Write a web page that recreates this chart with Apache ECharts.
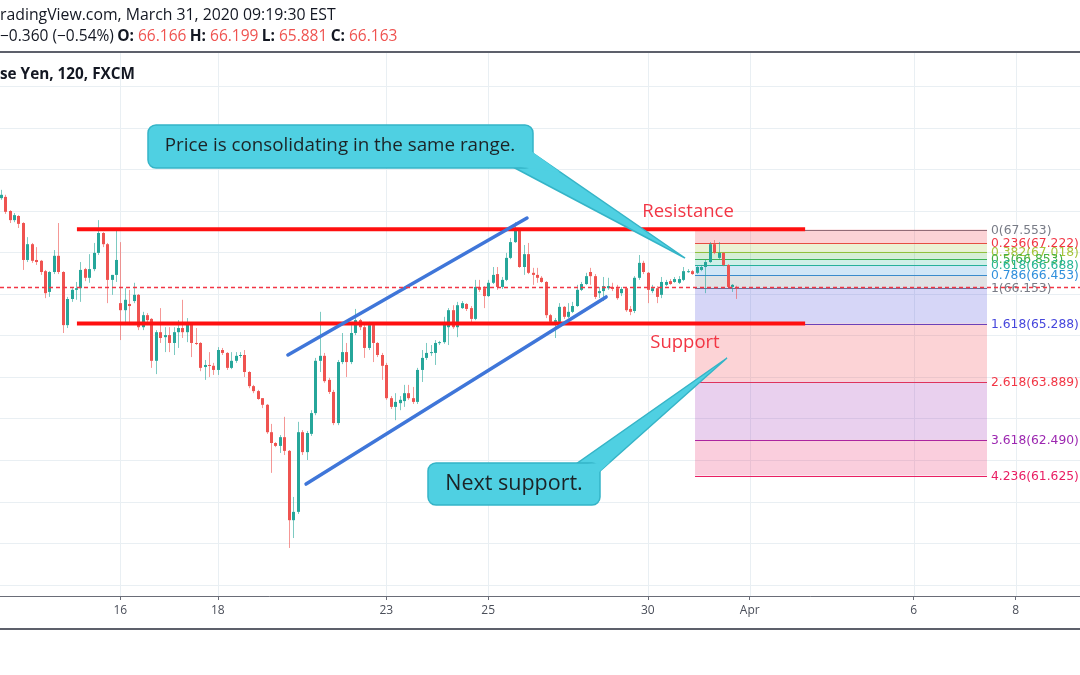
<!DOCTYPE html>
<html><head><meta charset="utf-8">
<script src="https://cdn.jsdelivr.net/npm/echarts@6/dist/echarts.min.js"></script>
<style>html,body{margin:0;padding:0;background:#fff}#c{width:1080px;height:675px}</style>
</head><body><div id="c"></div>
<script>
// ---- data (USD/JPY 120-minute candles, bar index order) ----
const opens = [
68.31,68.34,68.00,67.78,67.88,67.71,66.82,67.20,66.82,66.80,
66.55,66.05,66.53,66.92,66.53,65.25,65.88,66.10,66.14,66.60,
66.39,66.60,66.99,67.47,67.20,66.34,66.46,65.78,65.61,65.76,
65.83,65.98,65.20,65.49,65.40,64.39,65.08,64.96,65.01,64.82,
65.08,65.18,65.08,65.30,64.82,64.82,64.24,64.29,64.27,64.17,
64.65,64.58,64.22,64.39,64.51,64.53,64.12,63.78,63.66,63.49,
63.33,62.67,62.41,62.34,62.55,62.22,60.55,60.75,62.67,62.19,
62.63,63.13,64.39,64.51,63.93,63.64,62.89,64.36,64.60,64.36,
65.06,65.37,65.20,64.70,65.25,64.82,64.53,64.29,63.49,63.28,
63.37,63.42,63.61,63.49,63.40,64.17,64.46,64.58,64.58,64.82,
64.84,65.20,65.61,65.20,65.66,65.76,65.66,65.40,66.17,66.14,
65.95,66.27,66.48,66.17,66.34,66.87,67.25,67.54,66.65,66.96,
66.51,66.46,66.39,66.29,65.49,65.33,65.33,65.69,65.45,65.57,
65.71,66.10,66.24,66.53,66.43,66.02,66.07,66.14,66.17,66.14,
66.02,66.14,65.64,65.59,66.39,66.75,66.51,66.07,66.14,65.98,
66.22,66.31,66.29,66.27,66.34,66.53,66.55,66.51,66.58,66.65,
66.77,67.20,66.87,66.99,66.70,66.17,66.166];
const closes = [
68.39,67.98,67.78,67.90,67.69,66.82,67.20,66.80,66.77,66.53,
66.02,66.53,66.92,66.53,65.25,65.88,66.10,66.14,66.58,66.39,
66.60,66.99,67.47,67.20,66.34,66.46,66.82,65.61,65.86,65.71,
65.98,65.20,65.49,65.37,64.39,65.08,64.94,65.01,64.82,65.08,
65.18,65.08,65.30,64.82,64.80,64.22,64.29,64.27,64.17,64.65,
64.58,64.22,64.39,64.51,64.53,64.12,63.78,63.66,63.47,63.33,
62.67,62.41,62.34,62.55,62.22,60.55,60.75,62.67,62.19,62.65,
63.13,64.39,64.51,63.90,63.64,62.89,64.36,64.60,64.36,65.06,
65.37,65.20,64.70,65.25,64.82,64.53,64.27,63.49,63.28,63.40,
63.45,63.61,63.49,63.40,64.17,64.46,64.58,64.60,64.82,64.84,
65.30,65.61,65.20,65.73,65.78,65.64,65.40,66.17,66.10,65.95,
66.27,66.46,66.17,66.34,66.87,67.25,67.54,66.65,66.96,66.51,
66.46,66.39,66.29,65.49,65.33,65.37,65.69,65.45,65.57,65.71,
66.10,66.24,66.43,66.43,65.93,66.07,66.19,66.19,66.12,65.90,
66.12,65.61,65.57,66.39,66.75,66.53,66.10,66.14,65.93,66.29,
66.29,66.24,66.36,66.36,66.55,66.55,66.48,66.65,66.65,66.77,
67.20,66.99,66.99,66.70,66.17,66.22,66.163];
const lows = [
68.27,67.93,67.71,67.73,67.59,66.58,66.77,66.75,66.70,66.46,
65.90,65.93,66.48,66.48,65.06,65.18,65.81,65.86,65.81,66.31,
66.27,66.55,66.94,67.13,65.78,65.98,66.29,64.89,65.25,65.25,
65.78,65.13,65.13,65.25,64.22,64.07,64.82,64.60,64.60,64.53,
64.70,64.94,64.84,64.48,64.77,64.14,63.93,64.00,64.05,64.05,
64.53,64.17,64.19,64.34,64.46,64.00,63.73,63.61,63.45,63.25,
62.63,61.69,62.31,62.17,62.12,59.88,60.12,60.70,62.12,62.00,
62.58,63.08,64.12,63.86,63.59,62.84,62.84,64.31,64.00,64.31,
65.01,65.13,64.46,64.65,64.36,64.48,63.93,63.45,63.23,62.96,
63.20,63.28,63.45,63.35,63.35,63.88,64.41,64.51,64.29,64.77,
64.80,64.77,65.16,64.96,65.64,65.59,65.30,65.37,66.05,65.66,
65.93,66.24,66.10,66.12,66.31,66.84,67.23,66.63,66.46,66.48,
66.22,66.27,66.27,65.42,65.30,64.94,65.30,65.40,65.42,65.54,
65.69,66.07,66.22,66.22,65.88,65.90,65.83,66.10,66.07,65.86,
65.95,65.57,65.49,65.54,66.34,66.48,65.78,66.02,65.78,65.90,
66.19,66.22,66.27,66.24,66.31,66.51,66.46,66.48,66.55,66.02,
66.75,66.96,66.84,66.67,66.14,66.05,65.881];
const highs = [
68.51,68.39,68.02,67.95,67.90,67.73,67.37,67.23,67.13,66.82,
66.58,66.55,67.06,67.71,66.55,65.93,66.14,66.29,66.77,66.63,
66.96,67.23,67.78,67.49,67.23,66.46,67.59,67.25,66.14,66.10,
66.27,66.00,65.57,65.54,65.42,65.13,65.66,65.20,65.20,65.20,
65.37,65.86,65.42,65.30,65.18,64.84,64.41,64.60,64.34,64.72,
64.70,64.60,64.60,64.60,64.60,64.65,64.14,63.81,63.69,63.49,
63.35,62.87,62.43,62.60,63.04,62.24,61.11,62.92,62.72,62.70,
63.20,64.46,65.57,64.58,63.98,63.69,64.41,65.06,64.82,65.25,
65.64,65.40,65.25,65.33,65.28,64.84,64.58,64.34,63.54,63.61,
63.54,63.81,63.81,63.76,64.22,64.65,64.82,64.77,64.89,64.87,
65.45,65.66,65.73,65.81,65.83,65.78,65.71,66.34,66.34,66.19,
66.34,66.65,66.65,66.41,66.99,67.35,67.73,67.57,67.18,67.23,
66.63,66.63,66.43,66.31,65.52,65.42,65.78,65.71,65.78,65.81,
66.22,66.29,66.51,66.63,66.48,66.17,66.41,66.39,66.27,66.22,
66.17,66.17,65.71,66.43,66.94,66.80,66.53,66.22,66.19,66.41,
66.34,66.36,66.41,66.43,66.65,66.60,66.58,66.67,66.70,66.82,
67.25,67.30,67.25,67.01,66.72,66.24,66.199];

const dateTickIdx = [27, 49, 87, 110, 146, 169, 206, 229];
const dateTickLabels = ['16', '18', '23', '25', '30', 'Apr', '6', '8'];
const gridPrices = [59, 60, 61, 62, 63, 64, 65, 66, 67, 68, 69, 70, 71];

const fibLevels = [0, 0.236, 0.382, 0.5, 0.618, 0.786, 1, 1.618, 2.618, 3.618, 4.236];
const fibPrices = [67.553, 67.222, 67.018, 66.853, 66.688, 66.453, 66.153, 65.288, 63.889, 62.490, 61.625];
const fibSpan = [156.66, 222.54];          // bar-index range of the fib tool

const resistanceLine = [17.2, 67.56, 181.5, 67.56];
const supportLine = [17.2, 65.29, 181.5, 65.29];
const channelUpper = [64.8, 64.53, 118.75, 67.83];
const channelLower = [68.9, 61.42, 136.6, 65.93];

const dayChange = '\u22120.360', dayChangePct = '\u22120.54%';

// ---- styles ----
const fibColors = ['#787b86','#f23645','#a6c43c','#43b043','#26b595','#2f8fdc','#787b86','#4646dc','#f23645','#9c27b0','#e91e63'];
const UP = '#26a69a', DOWN = '#ef5350';
function rgba(hex, a) {
  const n = parseInt(hex.slice(1), 16);
  return `rgba(${(n >> 16) & 255},${(n >> 8) & 255},${n & 255},${a})`;
}

const last = opens.length - 1;
const candleData = opens.map((o, i) => [i, o, closes[i], lows[i], highs[i]]);
const fmt = v => v.toFixed(3);

const chart = echarts.init(document.getElementById('c'), null, {renderer: 'canvas'});

const option = {
  animation: false,
  backgroundColor: '#ffffff',
  grid: {left: 0, right: 0, top: 53, bottom: 79, containLabel: false},
  xAxis: {
    type: 'value', min: -0.158, max: 243.52,
    axisLine: {show: true, onZero: false, lineStyle: {color: '#6a6d78', width: 1}},
    axisTick: {show: true, customValues: dateTickIdx, length: 4, lineStyle: {color: '#6a6d78'}},
    axisLabel: {customValues: dateTickIdx, formatter: v => dateTickLabels[dateTickIdx.indexOf(v)] || '',
      color: '#4a4e59', fontSize: 12, fontFamily: 'Open Sans', margin: 9},
    splitLine: {show: false}
  },
  yAxis: {type: 'value', min: 58.723, max: 71.807, show: false, splitLine: {show: false}},
  series: [
    { // horizontal grid
      type: 'custom', silent: true, z: 0,
      data: gridPrices.map(p => [0, p]),
      renderItem: (params, api) => {
        const y = Math.round(api.coord([0, api.value(1)])[1]) + 0.5;
        const cs = params.coordSys;
        return {type: 'line', shape: {x1: cs.x, y1: y, x2: cs.x + cs.width, y2: y}, style: {stroke: '#e9eff3', lineWidth: 1}};
      }
    },
    { // vertical grid
      type: 'custom', silent: true, z: 0,
      data: dateTickIdx.map(i => [i, 65]),
      renderItem: (params, api) => {
        const x = Math.round(api.coord([api.value(0), 65])[0]) + 0.5;
        const cs = params.coordSys;
        return {type: 'line', shape: {x1: x, y1: cs.y, x2: x, y2: cs.y + cs.height}, style: {stroke: '#e9eff3', lineWidth: 1}};
      }
    },
    { // fib retracement
      type: 'custom', silent: true, z: 1,
      data: fibPrices.map((p, k) => [fibSpan[0], p, fibSpan[1], k]),
      renderItem: (params, api) => {
        const k = api.value(3);
        const a = api.coord([api.value(0), api.value(1)]);
        const b = api.coord([api.value(2), api.value(1)]);
        const col = fibColors[k];
        const ch = [];
        if (k > 0) {
          const prev = api.coord([api.value(0), fibPrices[k - 1]]);
          ch.push({type: 'rect', shape: {x: a[0], y: prev[1], width: b[0] - a[0], height: a[1] - prev[1]}, style: {fill: rgba(col, 0.22)}});
        }
        const y = Math.round(a[1]) + 0.5;
        ch.push({type: 'line', shape: {x1: a[0], y1: y, x2: b[0], y2: y}, style: {stroke: col, lineWidth: 1.2}});
        ch.push({type: 'text', x: b[0] + 4, y: y, style: {text: fibLevels[k] + '(' + fmt(fibPrices[k]) + ')', fill: col,
          font: '12.3px "DejaVu Sans"', verticalAlign: 'middle', align: 'left'}});
        return {type: 'group', children: ch};
      }
    },
    { // candles
      type: 'custom', z: 3, silent: true,
      data: candleData,
      renderItem: (params, api) => {
        const i = api.value(0), o = api.value(1), c = api.value(2), l = api.value(3), h = api.value(4);
        const pO = api.coord([i, o]), pC = api.coord([i, c]), pL = api.coord([i, l]), pH = api.coord([i, h]);
        const up = c >= o;
        const col = up ? UP : DOWN;
        const x = Math.round(pO[0]);
        const top = Math.min(pO[1], pC[1]);
        const hh = Math.max(1, Math.abs(pO[1] - pC[1]));
        return {type: 'group', children: [
          {type: 'line', shape: {x1: x + 0.5, y1: pH[1], x2: x + 0.5, y2: pL[1]}, style: {stroke: rgba(col, 0.6), lineWidth: 1}},
          {type: 'rect', shape: {x: x - 1, y: top, width: 3, height: hh}, style: {fill: col}}
        ]};
      }
    },
    { // support / resistance
      type: 'custom', z: 4, silent: true,
      data: [resistanceLine, supportLine],
      renderItem: (params, api) => {
        const a = api.coord([api.value(0), api.value(1)]), b = api.coord([api.value(2), api.value(3)]);
        return {type: 'line', shape: {x1: a[0], y1: a[1], x2: b[0], y2: b[1]}, style: {stroke: '#ff1010', lineWidth: 4}};
      }
    },
    { // channel
      type: 'custom', z: 4, silent: true,
      data: [channelUpper, channelLower],
      renderItem: (params, api) => {
        const a = api.coord([api.value(0), api.value(1)]), b = api.coord([api.value(2), api.value(3)]);
        return {type: 'line', shape: {x1: a[0], y1: a[1], x2: b[0], y2: b[1]}, style: {stroke: '#3f76d9', lineWidth: 3.5, lineCap: 'round'}};
      }
    },
    { // last price line
      type: 'line', z: 6, silent: true, data: [],
      markLine: {
        silent: true, symbol: 'none', animation: false,
        label: {show: false},
        lineStyle: {color: '#f23645', width: 1.3, type: [4, 3], opacity: 1},
        emphasis: {disabled: true},
        data: [{yAxis: closes[last]}]
      }
    }
  ],
  graphic: [
    {type: 'text', x: 0, y: 15, z: 10, style: {text: 'radingView.com, March 31, 2020 09:19:30 EST', fill: '#131722',
      font: '15.8px "Open Sans"', verticalAlign: 'middle'}},
    {type: 'text', x: 0, y: 37, z: 10, style: {
      text: `{n|${dayChange} (${dayChangePct})} {b|O:}{r| ${fmt(opens[last])}} {b|H:}{r| ${fmt(highs[last])}} {b|L:}{r| ${fmt(lows[last])}} {b|C:}{r| ${fmt(closes[last])}}`,
      verticalAlign: 'middle',
      rich: {
        n: {fill: '#131722', fontSize: 15.5, fontFamily: 'Open Sans'},
        b: {fill: '#131722', fontSize: 15.5, fontFamily: 'Open Sans', fontWeight: 'bold'},
        r: {fill: '#ef5350', fontSize: 15.5, fontFamily: 'Open Sans'}
      }}},
    {type: 'line', z: 10, shape: {x1: 0, y1: 52, x2: 1080, y2: 52}, style: {stroke: '#5d606b', lineWidth: 2}},
    {type: 'line', z: 10, shape: {x1: 0, y1: 629, x2: 1080, y2: 629}, style: {stroke: '#5d606b', lineWidth: 2}},
    {type: 'text', x: 0, y: 75, z: 10, style: {text: 'se Yen, 120, FXCM', fill: '#131722', font: 'bold 15.3px "Open Sans"', verticalAlign: 'middle'}},
    // labels
    {type: 'text', x: 688, y: 212, z: 10, style: {text: 'Resistance', fill: '#f23645', font: '18.5px "Open Sans"', align: 'center', verticalAlign: 'middle'}},
    {type: 'text', x: 685, y: 343, z: 10, style: {text: 'Support', fill: '#f23645', font: '18.5px "Open Sans"', align: 'center', verticalAlign: 'middle'}},
    // callout 1
    {type: 'polygon', z: 11, shape: {points: [[513, 167], [531, 152], [685, 258]]}, style: {fill: '#4fd0e2', stroke: '#35b4c7', lineWidth: 1.5}},
    {type: 'rect', z: 12, shape: {x: 148, y: 125, width: 385, height: 43, r: 8}, style: {fill: '#4fd0e2', stroke: '#35b4c7', lineWidth: 1.5}},
    {type: 'polygon', z: 13, shape: {points: [[513, 166], [531, 151], [560, 172]]}, style: {fill: '#4fd0e2'}},
    {type: 'text', z: 14, x: 340, y: 146, style: {text: 'Price is consolidating in the same range.', fill: '#1c2326', font: '18.8px "Open Sans"', align: 'center', verticalAlign: 'middle'}},
    // callout 2
    {type: 'polygon', z: 11, shape: {points: [[576, 464], [599, 472], [727, 358]]}, style: {fill: '#4fd0e2', stroke: '#35b4c7', lineWidth: 1.5}},
    {type: 'rect', z: 12, shape: {x: 428, y: 463, width: 172, height: 42, r: 8}, style: {fill: '#4fd0e2', stroke: '#35b4c7', lineWidth: 1.5}},
    {type: 'polygon', z: 13, shape: {points: [[576, 465], [598, 473], [610, 462]]}, style: {fill: '#4fd0e2'}},
    {type: 'text', z: 14, x: 514, y: 484, style: {text: 'Next support.', fill: '#1c2326', font: '21.5px "Open Sans"', align: 'center', verticalAlign: 'middle'}}
  ]
};
chart.setOption(option);
</script>
</body></html>
